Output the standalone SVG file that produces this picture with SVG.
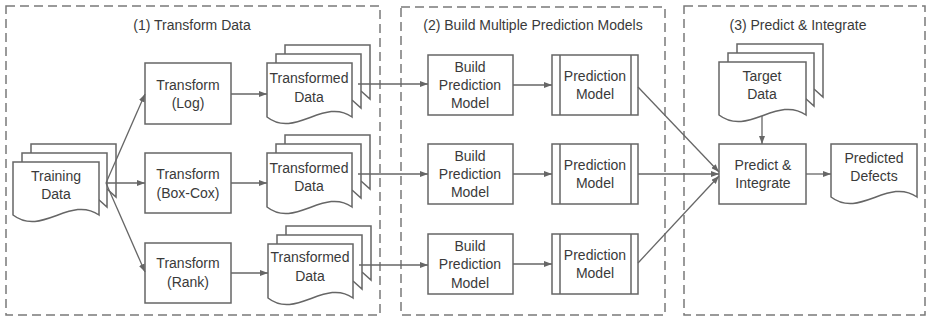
<svg xmlns="http://www.w3.org/2000/svg" width="928" height="321" viewBox="0 0 928 321">
<defs>
<style>
.panel{fill:none;stroke:#7a7a7a;stroke-width:1.5;stroke-dasharray:9 5}
.box{fill:#fff;stroke:#666;stroke-width:1.5}
.t{font-family:"Liberation Sans",Arial,sans-serif;font-size:14px;fill:#3a3a3a;text-anchor:middle}
.conn{stroke:#666;stroke-width:1.3;fill:none;marker-end:url(#arr)}
</style>
<marker id="arr" markerUnits="userSpaceOnUse" markerWidth="8" markerHeight="6" refX="8" refY="3" orient="auto">
<path d="M0,0 L8,3 L0,6 z" fill="#666"/>
</marker>
</defs>
<rect fill="#fff" width="928" height="321"/>
<g id="panels">
<rect class="panel" x="6" y="6" width="374" height="309"/>
<rect class="panel" x="401" y="7" width="264" height="308"/>
<rect class="panel" x="684" y="6" width="241" height="309"/>
<text class="t" x="192" y="30">(1) Transform Data</text>
<text class="t" x="533" y="30">(2) Build Multiple Prediction Models</text>
<text class="t" x="798" y="30">(3) Predict &amp; Integrate</text>
</g>
<g id="training-data">
<path class="box" d="M31,153 V144 H116 V197 L107,189"/>
<path class="box" d="M22,162 V153 H107 V207 L98,199"/>
<path class="box" d="M13,162 H99 V215 C70,195 42,237 13,215 Z"/>
<text class="t" x="56" y="181">Training</text>
<text class="t" x="56" y="199">Data</text>
</g>
<g id="transform-log">
<rect class="box" x="145" y="63" width="86" height="61"/>
<text class="t" x="188" y="90">Transform</text>
<text class="t" x="188" y="108">(Log)</text>
</g>
<g id="transform-boxcox">
<rect class="box" x="145" y="153" width="86" height="60"/>
<text class="t" x="188" y="179">Transform</text>
<text class="t" x="188" y="198">(Box-Cox)</text>
</g>
<g id="transform-rank">
<rect class="box" x="145" y="243" width="86" height="60"/>
<text class="t" x="188" y="268">Transform</text>
<text class="t" x="188" y="287">(Rank)</text>
</g>
<g id="transformed-data-1">
<path class="box" d="M285,54 V45 H370 V99 L361,91"/>
<path class="box" d="M276,63 V54 H361 V108 L352,100"/>
<path class="box" d="M267,63 H352 V117 C324,97 295,139 267,117 Z"/>
<text class="t" x="309" y="83">Transformed</text>
<text class="t" x="309" y="102">Data</text>
</g>
<g id="transformed-data-2">
<path class="box" d="M285,144 V135 H370 V189 L361,181"/>
<path class="box" d="M276,153 V144 H361 V198 L352,190"/>
<path class="box" d="M267,153 H352 V207 C324,187 295,229 267,207 Z"/>
<text class="t" x="309" y="173">Transformed</text>
<text class="t" x="309" y="191">Data</text>
</g>
<g id="transformed-data-3">
<path class="box" d="M286,235 V226 H371 V280 L362,272"/>
<path class="box" d="M277,244 V235 H362 V289 L353,281"/>
<path class="box" d="M268,244 H353 V298 C325,278 296,320 268,298 Z"/>
<text class="t" x="310" y="262">Transformed</text>
<text class="t" x="310" y="281">Data</text>
</g>
<g id="build-1">
<rect class="box" x="428" y="55" width="85" height="60"/>
<text class="t" x="470" y="72">Build</text>
<text class="t" x="470" y="90">Prediction</text>
<text class="t" x="470" y="108">Model</text>
</g>
<g id="build-2">
<rect class="box" x="428" y="144" width="85" height="60"/>
<text class="t" x="470" y="161">Build</text>
<text class="t" x="470" y="179">Prediction</text>
<text class="t" x="470" y="197">Model</text>
</g>
<g id="build-3">
<rect class="box" x="428" y="234" width="85" height="60"/>
<text class="t" x="470" y="251">Build</text>
<text class="t" x="470" y="269">Prediction</text>
<text class="t" x="470" y="288">Model</text>
</g>
<g id="model-1">
<rect class="box" x="552" y="55" width="86" height="60"/>
<path class="box" d="M560,55 V115 M631,55 V115"/>
<text class="t" x="595" y="81">Prediction</text>
<text class="t" x="595" y="99">Model</text>
</g>
<g id="model-2">
<rect class="box" x="552" y="144" width="86" height="60"/>
<path class="box" d="M560,144 V204 M631,144 V204"/>
<text class="t" x="595" y="170">Prediction</text>
<text class="t" x="595" y="188">Model</text>
</g>
<g id="model-3">
<rect class="box" x="552" y="234" width="86" height="60"/>
<path class="box" d="M560,234 V294 M631,234 V294"/>
<text class="t" x="595" y="260">Prediction</text>
<text class="t" x="595" y="278">Model</text>
</g>
<g id="target-data">
<path class="box" d="M737,53 V44 H823 V97 L814,89"/>
<path class="box" d="M728,62 V53 H814 V106 L805,98"/>
<path class="box" d="M719,62 H806 V115 C777,95 748,137 719,115 Z"/>
<text class="t" x="762" y="81">Target</text>
<text class="t" x="762" y="99">Data</text>
</g>
<g id="predict-integrate">
<rect class="box" x="719" y="144" width="87" height="60"/>
<text class="t" x="763" y="170">Predict &amp;</text>
<text class="t" x="763" y="188">Integrate</text>
</g>
<g id="predicted-defects">
<path class="box" d="M831,144 H917 V197 C888,177 860,219 831,197 Z"/>
<text class="t" x="874" y="163">Predicted</text>
<text class="t" x="874" y="181">Defects</text>
</g>
<g id="connectors">
<line class="conn" x1="106" y1="183" x2="145" y2="94"/>
<line class="conn" x1="106" y1="183" x2="145" y2="183"/>
<line class="conn" x1="106" y1="183" x2="145" y2="272"/>
<line class="conn" x1="231" y1="94" x2="267" y2="94"/>
<line class="conn" x1="231" y1="183" x2="267" y2="183"/>
<line class="conn" x1="231" y1="273" x2="268" y2="273"/>
<line class="conn" x1="358" y1="84" x2="428" y2="84"/>
<line class="conn" x1="358" y1="174" x2="428" y2="174"/>
<line class="conn" x1="359" y1="265" x2="428" y2="265"/>
<line class="conn" x1="513" y1="85" x2="552" y2="85"/>
<line class="conn" x1="513" y1="174" x2="552" y2="174"/>
<line class="conn" x1="513" y1="264" x2="552" y2="264"/>
<line class="conn" x1="638" y1="87" x2="719" y2="172"/>
<line class="conn" x1="638" y1="174" x2="719" y2="174"/>
<line class="conn" x1="638" y1="263" x2="719" y2="176"/>
<line class="conn" x1="762" y1="116" x2="762" y2="144"/>
<line class="conn" x1="806" y1="174" x2="831" y2="174"/>
</g>
</svg>
